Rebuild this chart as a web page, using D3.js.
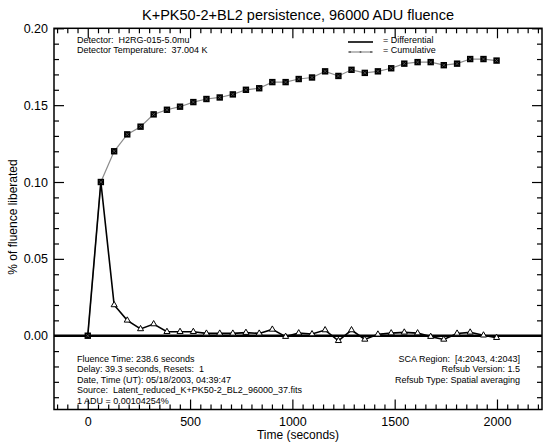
<!DOCTYPE html>
<html><head><meta charset="utf-8">
<script src="https://cdn.jsdelivr.net/npm/d3@7"></script>
<style>body{margin:0;background:#fff}svg{display:block;font-family:"Liberation Sans",Arial,sans-serif}</style>
</head><body><svg id="c" width="544" height="442"></svg>
<script>
const times = [0,64,129,193,258,322,387,451,516,580,645,709,773,838,902,967,1031,1096,1160,1225,1289,1354,1418,1483,1547,1612,1676,1740,1805,1869,1934,1998];
const cumulative = [0.000,0.100,0.120,0.131,0.136,0.144,0.147,0.149,0.152,0.154,0.155,0.157,0.160,0.161,0.165,0.165,0.167,0.168,0.172,0.169,0.173,0.171,0.172,0.174,0.177,0.178,0.178,0.176,0.177,0.180,0.180,0.179];
const differential = [0.000,0.100,0.020,0.010,0.0044,0.0076,0.0026,0.0026,0.0026,0.0015,0.0015,0.0015,0.0020,0.0015,0.0041,-0.0006,0.0017,0.0011,0.0037,-0.0033,0.0037,-0.0024,0.0009,0.0017,0.0022,0.0017,-0.0006,-0.0024,0.0015,0.0022,0.0003,-0.0013];
const xTicks = [0,500,1000,1500,2000];
const xTickLabels = ["0","500","1000","1500","2000"];
const yTicks = [0,0.05,0.10,0.15,0.20];
const yTickLabels = ["0.00","0.05","0.10","0.15","0.20"];
const title = "K+PK50-2+BL2 persistence, 96000 ADU fluence";
const infoTop = ["Detector:  H2RG-015-5.0mu","Detector Temperature:  37.004 K"];
const infoLeft = ["Fluence Time: 238.6 seconds","Delay: 39.3 seconds, Resets:  1","Date, Time (UT): 05/18/2003, 04:39:47","Source:  Latent_reduced_K+PK50-2_BL2_96000_37.fits","1 ADU = 0.00104254%"];
const infoRight = ["SCA Region:  [4:2043, 4:2043]","Refsub Version: 1.5","Refsub Type: Spatial averaging"];
const legendLabels = ["= Differential","= Cumulative"];

const svg = d3.select("#c");
const L=54,R=542,T=28.3,B=409.5;
const x = d3.scaleLinear().domain([-165,2220]).range([L,R]);
const y = d3.scaleLinear().domain([-0.048,0.20]).range([B,T]);

const xMinor = d3.range(-150,2221,50).filter(v=>!xTicks.includes(v));
const yMinor = d3.range(-4,21,1).map(v=>v/100).filter(v=>!yTicks.some(t=>Math.abs(t-v)<1e-9));

function axis(gen, tr, vals, size, fmt, pad){
  const g = svg.append("g").attr("transform",tr)
    .call(gen.tickValues(vals).tickSize(size).tickPadding(pad).tickFormat(fmt));
  g.select(".domain").remove();
  g.selectAll("line").attr("stroke","#000").attr("stroke-width",1.2);
  g.selectAll("text").attr("fill","#000").attr("font-size",12.5).attr("font-family","Liberation Sans, Arial, sans-serif");
  return g;
}
const xl = (d)=>xTickLabels[xTicks.indexOf(d)];
const yl = (d)=>yTickLabels[yTicks.indexOf(d)];
axis(d3.axisBottom(x), `translate(0,${B})`, xTicks, -10, xl, 8);
axis(d3.axisBottom(x), `translate(0,${B})`, xMinor, -5, ()=>"", 8);
axis(d3.axisTop(x), `translate(0,${T})`, xTicks, -10, ()=>"", 8);
axis(d3.axisTop(x), `translate(0,${T})`, xMinor, -5, ()=>"", 8);
axis(d3.axisLeft(y), `translate(${L},0)`, yTicks, -10, yl, 6);
axis(d3.axisLeft(y), `translate(${L},0)`, yMinor, -5, ()=>"", 6);
axis(d3.axisRight(y), `translate(${R},0)`, yTicks, -10, ()=>"", 6);
axis(d3.axisRight(y), `translate(${R},0)`, yMinor, -5, ()=>"", 6);

svg.append("rect").attr("x",L).attr("y",T).attr("width",R-L).attr("height",B-T)
  .attr("fill","none").attr("stroke","#000").attr("stroke-width",1.5);

// zero line
svg.append("line").attr("x1",L).attr("x2",R).attr("y1",y(0)).attr("y2",y(0))
  .attr("stroke","#000").attr("stroke-width",2.4);

const cum = times.map((t,i)=>({t,v:cumulative[i]}));
const dif = times.map((t,i)=>({t,v:differential[i]}));
const line = d3.line().x(d=>x(d.t)).y(d=>y(d.v));

svg.append("path").datum(cum).attr("d",line).attr("fill","none").attr("stroke","#8c8c8c").attr("stroke-width",1.2);
svg.append("path").datum(dif).attr("d",line).attr("fill","none").attr("stroke","#000").attr("stroke-width",1.6);

const tri = d3.symbol().type(d3.symbolTriangle).size(16);
svg.append("g").selectAll("path").data(dif.slice(2)).join("path")
  .attr("d",tri).attr("transform",d=>`translate(${x(d.t)},${y(d.v)})`)
  .attr("fill","#fff").attr("stroke","#000").attr("stroke-width",1);

svg.append("g").selectAll("rect").data(cum).join("rect")
  .attr("x",d=>x(d.t)-3.2).attr("y",d=>y(d.v)-3.2).attr("width",6.4).attr("height",6.4)
  .attr("fill","#000");
svg.append("g").selectAll("path").data(cum).join("path")
  .attr("d",d=>{const cx=x(d.t),cy=y(d.v);return `M${cx-1.6},${cy-1.6}L${cx+1.6},${cy+1.6}M${cx+1.6},${cy-1.6}L${cx-1.6},${cy+1.6}`;})
  .attr("stroke","#666").attr("stroke-width",0.7);

// title and axis labels
svg.append("text").attr("x",(L+R)/2).attr("y",20).attr("text-anchor","middle")
  .attr("font-size",14.5).text(title);
svg.append("text").attr("x",(L+R)/2).attr("y",439).attr("text-anchor","middle")
  .attr("font-size",12).text("Time (seconds)");
svg.append("text").attr("transform","translate(17,217) rotate(-90)").attr("text-anchor","middle")
  .attr("font-size",12).text("% of fluence liberated");

// info text
const info = (arr,xx,y0,dy,anchor)=>svg.append("g").selectAll("text").data(arr).join("text")
  .attr("x",xx).attr("y",(d,i)=>y0+i*dy).attr("text-anchor",anchor)
  .attr("font-size",9).attr("xml:space","preserve").style("white-space","pre").text(d=>d);
info(infoTop,77,42.5,10.2,"start");
info(infoLeft,77,361.5,10.6,"start");
info(infoRight,520,361.5,10.6,"end");

// legend
svg.append("line").attr("x1",348).attr("x2",373).attr("y1",42).attr("y2",42).attr("stroke","#000").attr("stroke-width",1.6);
svg.append("line").attr("x1",348).attr("x2",373).attr("y1",52).attr("y2",52).attr("stroke","#8c8c8c").attr("stroke-width",1.2);
svg.append("g").selectAll("rect").data([350,360.5,371]).join("rect")
  .attr("x",d=>d-0.8).attr("y",51.2).attr("width",1.6).attr("height",1.6).attr("fill","#555");
info(legendLabels,383,42.5,10,"start");
</script></body></html>
